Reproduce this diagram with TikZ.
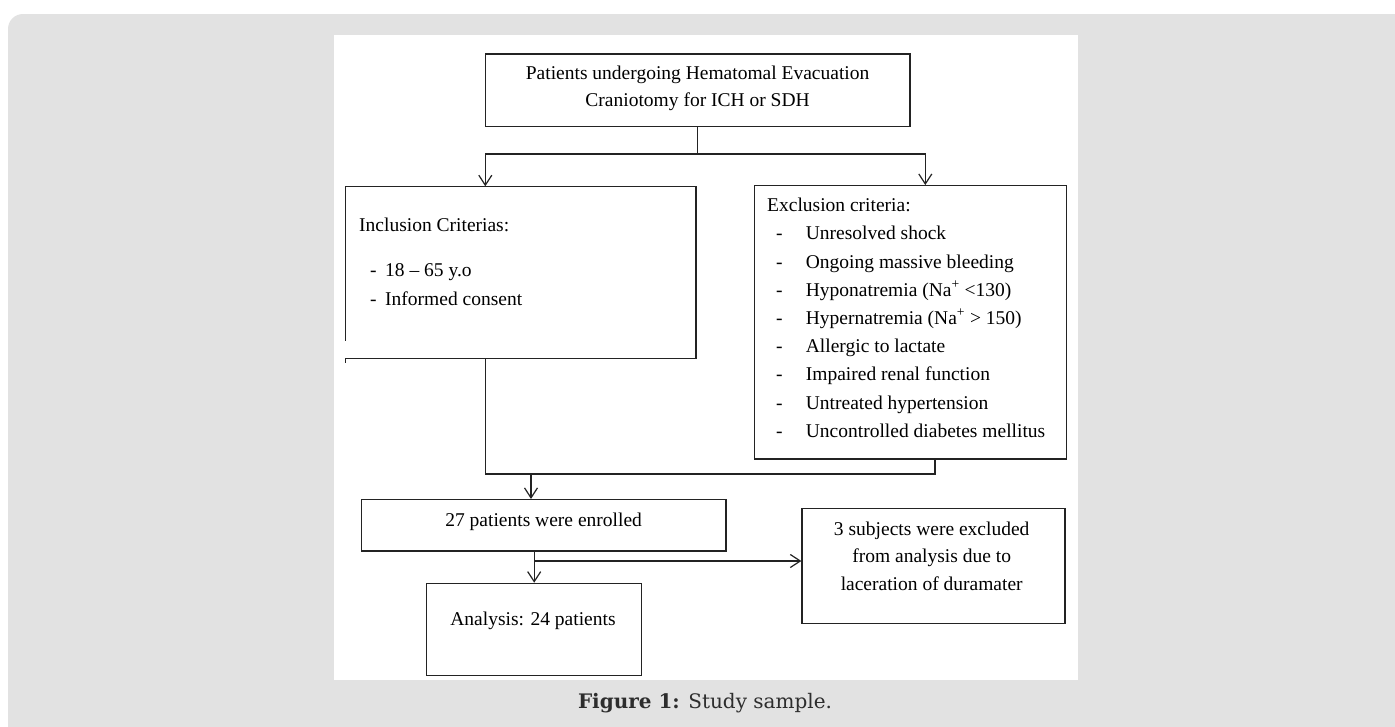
\documentclass[tikz,border=0pt]{standalone}
\usepackage{fontspec}
\setmainfont{Liberation Serif}
\newfontfamily\capfont{DejaVu Serif}
\usetikzlibrary{arrows.meta, positioning}
\definecolor{panelgray}{RGB}{226,226,226}
\definecolor{linegray}{RGB}{35,35,35}
\definecolor{captiongray}{RGB}{45,45,45}

\newcommand{\exitem}[1]{\makebox[38.7pt][l]{\hspace{9pt}-}#1}
\newcommand{\initem}[1]{\makebox[26pt][l]{\hspace{11pt}-}#1}

\begin{document}
\begin{tikzpicture}[x=1pt, y=-1pt,
    box/.style={draw=linegray, line width=1.2pt, inner sep=0pt},
    link/.style={draw=linegray, line width=1.2pt},
    arr/.style={link, -{Straight Barb[length=10pt, width=13pt]}},
    txt/.style={inner sep=0pt, text=black, font=\fontsize{19.5pt}{28.2pt}\selectfont}]
    \useasboundingbox (0,0) rectangle (1395,726);
    
    % Background
    \fill[white] (0,0) rectangle (1395,726);
    \begin{scope}
        \clip (0,0) rectangle (1395,726);
        \fill[panelgray, rounded corners=15pt] (8,14) rectangle (1410,760);
    \end{scope}
    \fill[white] (334,35) rectangle (1078,679.5);
    
    % Boxes (text nodes sit on the baseline of their last line)
    \node[box, minimum width=424.7pt, minimum height=72.7pt] at (697.6,90.3) (top) {};
    \node[txt, anchor=base, align=center] at (697.6,106) (toptext) {Patients undergoing Hematomal Evacuation\\[-1.5pt]Craniotomy for ICH or SDH};
    
    \node[inner sep=0pt, minimum width=350.2pt, minimum height=171.8pt] at (520.6,272.4) (incl) {};
    \draw[link] ([yshift=18pt]incl.south west) -- (incl.north west) -- (incl.north east) -- (incl.south east) -- (incl.south west) -- ++(0pt,-4pt);
    \node[txt, anchor=base west, align=left] at (359,305) (incltext) {Inclusion Criterias:\\[16.8pt]\initem{18 -- 65 y.o}\\\initem{Informed consent}};
    
    \node[box, minimum width=312pt, minimum height=273.3pt] at (910.3,322.3) (excl) {};
    \node[txt, anchor=base west, align=left] at (767,437.3) (excltext) {Exclusion criteria:\\
        \exitem{Unresolved shock}\\
        \exitem{Ongoing massive bleeding}\\
        \exitem{Hyponatremia (Na\textsuperscript{+} <130)}\\
        \exitem{Hypernatremia (Na\textsuperscript{+} > 150)}\\
        \exitem{Allergic to lactate}\\
        \exitem{Impaired renal function}\\
        \exitem{Untreated hypertension}\\
        \exitem{Uncontrolled diabetes mellitus}};
    
    \node[box, minimum width=364.3pt, minimum height=51.5pt] at (543.9,525.3) (enrolled) {};
    \node[txt, anchor=base] at (543.6,526) (enrolledtext) {27 patients were enrolled};
    
    \node[box, minimum width=215pt, minimum height=92.4pt] at (534.2,629.5) (analysis) {};
    \node[txt, anchor=base] at (533,625) (analysistext) {Analysis: 24 patients};
    
    \node[box, minimum width=263pt, minimum height=115pt] at (933.5,565.8) (excluded) {};
    \node[txt, anchor=base, align=center, font=\fontsize{19.5pt}{27.5pt}\selectfont] at (931.7,590) (excludedtext) {3 subjects were excluded\\from analysis due to\\laceration of duramater};
    
    % Connectors
    \coordinate (fork) at (697.6,154);
    \coordinate (merge) at (531,474);
    \draw[link] (top) -- (fork);
    \draw[arr] (fork) -| ([xshift=-35.3pt]incl.north);
    \draw[arr] (fork) -| ([xshift=15pt]excl.north);
    \draw[link] ([xshift=-35.3pt]incl.south) |- (merge) -| ([xshift=24.7pt]excl.south);
    \draw[arr] (merge) -- (merge |- enrolled.north);
    \draw[arr] (enrolled.south -| analysis.north) -- (analysis.north);
    \draw[arr] (enrolled.south -| analysis.north) |- ([yshift=4.8pt]excluded.west);
    
    % Caption
    \node[anchor=base, text=captiongray, font=\capfont\fontsize{20pt}{24pt}\selectfont] at (705,708.3) (caption) {\textbf{Figure 1:} Study sample.};
\end{tikzpicture}
\end{document}
